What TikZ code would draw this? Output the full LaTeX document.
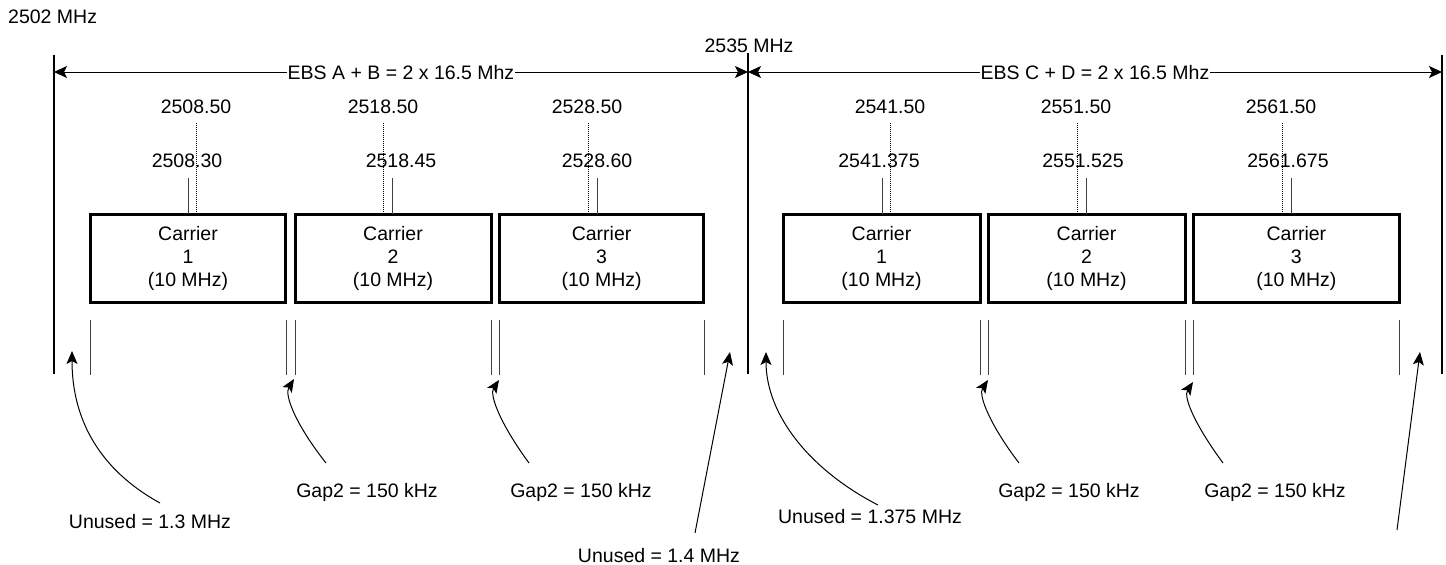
\documentclass[tikz,border=0pt]{standalone}
\usepackage{fontspec}
\setmainfont{Liberation Sans}
\usetikzlibrary{arrows.meta}
\begin{document}
\begin{tikzpicture}[x=1pt,y=-1pt,
  lbl/.style={inner sep=0pt, anchor=base, font=\fontsize{19.5}{23.5}\selectfont},
  carrier/.style={draw, line width=3pt, minimum height=88.3pt, align=center, inner sep=0pt,
    font=\fontsize{19.5}{23.3}\selectfont},
  bigline/.style={line width=1.3pt},
  gtick/.style={line width=1pt, black!75},
  dotline/.style={line width=1pt, dash pattern=on 1pt off 1pt},
  solidline/.style={line width=1pt, black!75},
  tip/.style={-{Stealth[length=13pt,width=11pt,inset=3pt]}},
  arr/.style={tip, line width=1pt},
  span/.style={{Stealth[length=13pt,width=12pt,inset=3pt]}-{Stealth[length=13pt,width=12pt,inset=3pt]}, line width=1pt}
]
\useasboundingbox (0,0) rectangle (1446,565);

% top labels
\node[lbl, anchor=base west] (f2502) at (8,23) {2502 MHz};
\node[lbl] (f2535) at (749,52) {2535 MHz};

% long vertical lines
\coordinate (vLt) at (54,55);  \coordinate (vLb) at (54,374);
\coordinate (vMt) at (748,53); \coordinate (vMb) at (748,374);
\coordinate (vRt) at (1442,55); \coordinate (vRb) at (1442,374);
\draw[bigline] (vLt) -- (vLb);
\draw[bigline] (vMt) -- (vMb);
\draw[bigline] (vRt) -- (vRb);

% span arrows
\coordinate (sLa) at (54,72);  \coordinate (sLb) at (748,72);
\coordinate (sRa) at (748,72); \coordinate (sRb) at (1442,72);
\draw[span] (sLa) -- (sLb);
\draw[span] (sRa) -- (sRb);
\node[lbl, fill=white, inner sep=0.5pt] (ebsAB) at (401,79) {EBS A + B = 2 x 16.5 Mhz};
\node[lbl, fill=white, inner sep=0.5pt] (ebsCD) at (1095,79) {EBS C + D = 2 x 16.5 Mhz};

% carrier boxes
\node[carrier, minimum width=195.5pt] (L1) at (188,258.3) {Carrier\\1\\(10 MHz)};
\node[carrier, minimum width=196pt] (L2) at (393,258.3) {Carrier\\2\\(10 MHz)};
\node[carrier, minimum width=204.5pt] (L3) at (601.6,258.3) {Carrier\\3\\(10 MHz)};
\node[carrier, minimum width=197pt] (R1) at (881.5,258.3) {Carrier\\1\\(10 MHz)};
\node[carrier, minimum width=197pt] (R2) at (1086.5,258.3) {Carrier\\2\\(10 MHz)};
\node[carrier, minimum width=205.5pt] (R3) at (1296.4,258.3) {Carrier\\3\\(10 MHz)};

% nominal (dotted) and actual (solid) centre frequencies
\foreach \n/\xd/\xs in {a/196/188, b/383/392, c/588/597, d/890/882, e/1077/1086, f/1282/1291}{
  \coordinate (d\n t) at (\xd,123); \coordinate (d\n b) at (\xd,214);
  \coordinate (s\n t) at (\xs,178); \coordinate (s\n b) at (\xs,214);
  \draw[dotline] (d\n t) -- (d\n b);
  \draw[solidline] (s\n t) -- (s\n b);
}
\node[lbl] (n1) at (196,113) {2508.50};
\node[lbl] (a1) at (187,167) {2508.30};
\node[lbl] (n2) at (383,113) {2518.50};
\node[lbl] (a2) at (401,167) {2518.45};
\node[lbl] (n3) at (587,113) {2528.50};
\node[lbl] (a3) at (597,167) {2528.60};
\node[lbl] (n4) at (890,113) {2541.50};
\node[lbl] (a4) at (879,167) {2541.375};
\node[lbl] (n5) at (1076,113) {2551.50};
\node[lbl] (a5) at (1083,167) {2551.525};
\node[lbl] (n6) at (1281,113) {2561.50};
\node[lbl] (a6) at (1288,167) {2561.675};

% edge ticks under boxes
\foreach \x [count=\i] in {90,286,295,491,499,704,783,980,988,1185,1193,1399}{
  \coordinate (tt\i) at (\x,320); \coordinate (tb\i) at (\x,375);
  \draw[gtick] (tt\i) -- (tb\i);
}

% annotation labels
\node[lbl] (u13) at (150,528) {Unused = 1.3 MHz};
\node[lbl] (g1) at (367,497) {Gap2 = 150 kHz};
\node[lbl] (g2) at (581,497) {Gap2 = 150 kHz};
\node[lbl] (u14) at (659,562) {Unused = 1.4 MHz};
\node[lbl] (u1375) at (870,523) {Unused = 1.375 MHz};
\node[lbl] (g3) at (1069,497) {Gap2 = 150 kHz};
\node[lbl] (g4) at (1275,497) {Gap2 = 150 kHz};

% arrow ends
\coordinate (p1) at (72,351);   \coordinate (q1) at (160,503);
\coordinate (p2) at (294,379);  \coordinate (q2) at (326,463);
\coordinate (p3) at (499,380);  \coordinate (q3) at (529,463);
\coordinate (p4) at (730,352);  \coordinate (q4) at (695,533);
\coordinate (p5) at (766,352);  \coordinate (q5) at (878,505);
\coordinate (p6) at (988,380);  \coordinate (q6) at (1019,463);
\coordinate (p7) at (1193,382); \coordinate (q7) at (1223,463);
\coordinate (p8) at (1420,352); \coordinate (q8) at (1397,530);

\draw[arr] (q1) .. controls (100,470) and (72,420) .. (p1);
\draw[arr] (q2) .. controls (296,425) and (284,395) .. (p2);
\draw[arr] (q3) .. controls (501,425) and (489,395) .. (p3);
\draw[arr] (q4) -- (p4);
\draw[arr] (q5) .. controls (810,470) and (766,415) .. (p5);
\draw[arr] (q6) .. controls (990,425) and (978,395) .. (p6);
\draw[arr] (q7) .. controls (1195,425) and (1183,397) .. (p7);
\draw[arr] (q8) -- (p8);
\end{tikzpicture}
\end{document}
